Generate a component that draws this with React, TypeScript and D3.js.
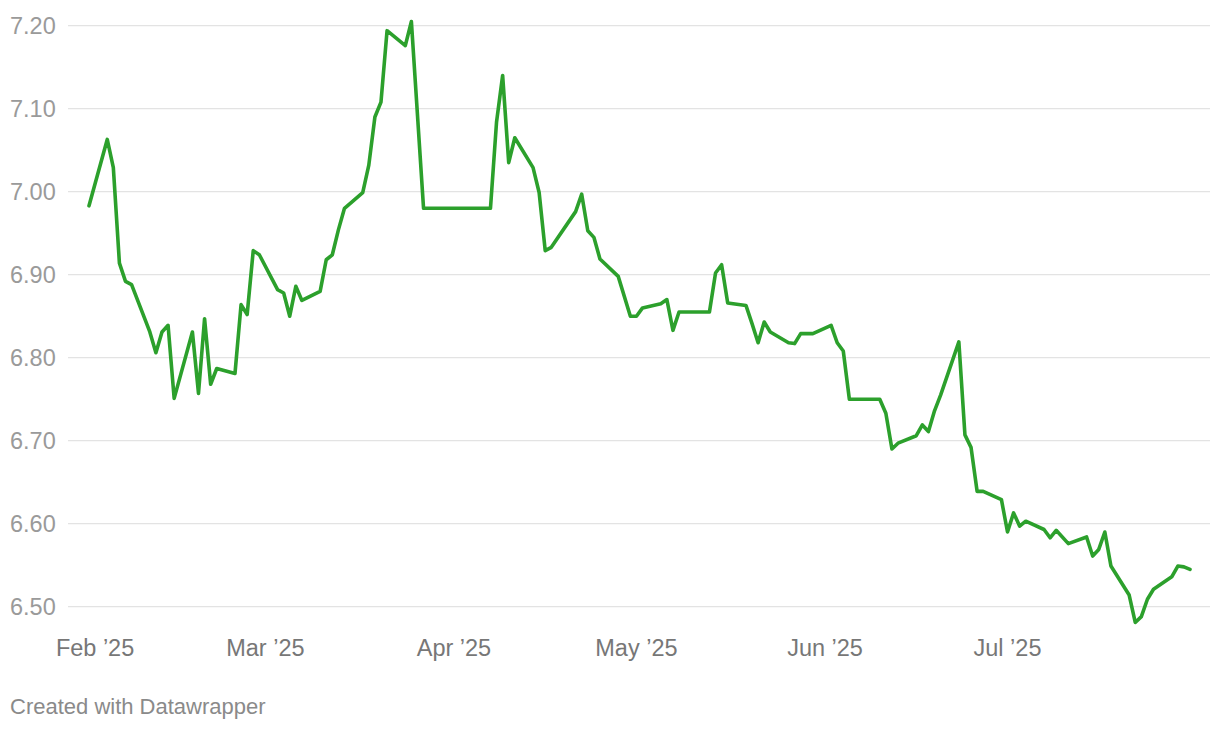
import React, { useMemo } from 'react';
import * as d3 from 'd3';

// Business-day values (Jan 31 – Jul 31, 2025)
const dates: string[] = [
  '2025-01-31', '2025-02-03', '2025-02-04', '2025-02-05', '2025-02-06', '2025-02-07',
  '2025-02-10', '2025-02-11', '2025-02-12', '2025-02-13', '2025-02-14',
  '2025-02-17', '2025-02-18', '2025-02-19', '2025-02-20', '2025-02-21',
  '2025-02-24', '2025-02-25', '2025-02-26', '2025-02-27', '2025-02-28',
  '2025-03-03', '2025-03-04', '2025-03-05', '2025-03-06', '2025-03-07',
  '2025-03-10', '2025-03-11', '2025-03-12', '2025-03-13', '2025-03-14',
  '2025-03-17', '2025-03-18', '2025-03-19', '2025-03-20', '2025-03-21',
  '2025-03-24', '2025-03-25', '2025-03-27', '2025-04-07',
  '2025-04-08', '2025-04-09', '2025-04-10', '2025-04-11',
  '2025-04-14', '2025-04-15', '2025-04-16', '2025-04-17',
  '2025-04-21', '2025-04-22', '2025-04-23', '2025-04-24', '2025-04-25',
  '2025-04-28', '2025-04-30', '2025-05-01', '2025-05-02',
  '2025-05-05', '2025-05-06', '2025-05-07', '2025-05-08', '2025-05-13',
  '2025-05-14', '2025-05-15', '2025-05-16',
  '2025-05-19', '2025-05-20', '2025-05-21', '2025-05-22', '2025-05-23',
  '2025-05-26', '2025-05-27', '2025-05-28', '2025-05-30',
  '2025-06-02', '2025-06-03', '2025-06-04', '2025-06-05', '2025-06-10',
  '2025-06-11', '2025-06-12', '2025-06-13',
  '2025-06-16', '2025-06-17', '2025-06-18', '2025-06-19', '2025-06-20',
  '2025-06-23', '2025-06-24', '2025-06-25', '2025-06-26', '2025-06-27',
  '2025-06-30', '2025-07-01', '2025-07-02', '2025-07-03', '2025-07-04',
  '2025-07-07', '2025-07-08', '2025-07-09', '2025-07-11',
  '2025-07-14', '2025-07-15', '2025-07-16', '2025-07-17', '2025-07-18',
  '2025-07-21', '2025-07-22', '2025-07-23', '2025-07-24', '2025-07-25',
  '2025-07-28', '2025-07-29', '2025-07-30', '2025-07-31',
];

const values: number[] = [
  6.983, 7.063, 7.029, 6.914, 6.892, 6.888,
  6.831, 6.806, 6.831, 6.839, 6.751,
  6.831, 6.757, 6.847, 6.768, 6.787,
  6.781, 6.864, 6.852, 6.929, 6.924,
  6.882, 6.878, 6.850, 6.886, 6.869,
  6.880, 6.918, 6.924, 6.954, 6.980,
  6.999, 7.032, 7.090, 7.108, 7.194,
  7.176, 7.205, 6.980, 6.980,
  7.084, 7.140, 7.035, 7.065,
  7.029, 6.999, 6.929, 6.933,
  6.976, 6.997, 6.953, 6.945, 6.919,
  6.898, 6.850, 6.850, 6.860,
  6.865, 6.870, 6.833, 6.855, 6.855,
  6.902, 6.912, 6.866,
  6.863, 6.841, 6.818, 6.843, 6.831,
  6.818, 6.817, 6.829, 6.829,
  6.839, 6.818, 6.808, 6.750, 6.750,
  6.733, 6.690, 6.697,
  6.706, 6.719, 6.711, 6.736, 6.755,
  6.819, 6.707, 6.692, 6.639, 6.639,
  6.629, 6.590, 6.613, 6.597, 6.603,
  6.593, 6.583, 6.592, 6.576,
  6.584, 6.561, 6.569, 6.590, 6.549,
  6.514, 6.481, 6.488, 6.509, 6.521,
  6.536, 6.549, 6.548, 6.545,
];

const yTicks: number[] = [6.5, 6.6, 6.7, 6.8, 6.9, 7.0, 7.1, 7.2];
const xTickDates: string[] = ['2025-02-01', '2025-03-01', '2025-04-01', '2025-05-01', '2025-06-01', '2025-07-01'];
const xTickLabels: string[] = ['Feb ’25', 'Mar ’25', 'Apr ’25', 'May ’25', 'Jun ’25', 'Jul ’25'];

const width = 1220;
const height = 730;
const font = '"Liberation Sans", Arial, Helvetica, sans-serif';

export default function App() {
  const parse = d3.utcParse('%Y-%m-%d');

  const { linePath, xScale, yScale } = useMemo(() => {
    const pts = dates.map((d, i) => ({ date: parse(d) as Date, value: values[i] }));
    const xScale = d3.scaleUtc()
      .domain([parse('2025-01-31') as Date, parse('2025-07-31') as Date])
      .range([89, 1190]);
    const yScale = d3.scaleLinear()
      .domain([6.5, 7.2])
      .range([606.7, 25.7]);
    const line = d3.line<{ date: Date; value: number }>()
      .x((d) => xScale(d.date))
      .y((d) => yScale(d.value));
    return { linePath: line(pts) || '', xScale, yScale };
  }, []);

  return (
    <svg
      width={width}
      height={height}
      viewBox={`0 0 ${width} ${height}`}
      style={{ position: 'absolute', left: 0, top: 0, background: '#fff' }}
    >
      {/* grid */}
      <g>
        {yTicks.map((t, i) => (
          <line
            key={`g-${i}`}
            x1={68}
            x2={1210}
            y1={yScale(t)}
            y2={yScale(t)}
            stroke="#e3e3e3"
            strokeWidth={1.3}
          />
        ))}
      </g>

      {/* y labels */}
      <g fontFamily={font} fontSize={23.5} fill="#9a9a9a">
        {yTicks.map((t, i) => (
          <text key={`yl-${i}`} x={10} y={yScale(t)} dy="0.35em">
            {t.toFixed(2)}
          </text>
        ))}
      </g>

      {/* x labels */}
      <g fontFamily={font} fontSize={23.5} fill="#777" textAnchor="middle">
        {xTickDates.map((d, i) => (
          <text key={`xl-${i}`} x={xScale(parse(d) as Date)} y={656}>
            {xTickLabels[i]}
          </text>
        ))}
      </g>

      {/* line */}
      <path
        d={linePath}
        fill="none"
        stroke="#2ca02c"
        strokeWidth={3.6}
        strokeLinejoin="round"
        strokeLinecap="round"
      />

      <text x={10} y={714} fontFamily={font} fontSize={22} fill="#8a8a8a">
        Created with Datawrapper
      </text>
    </svg>
  );
}
